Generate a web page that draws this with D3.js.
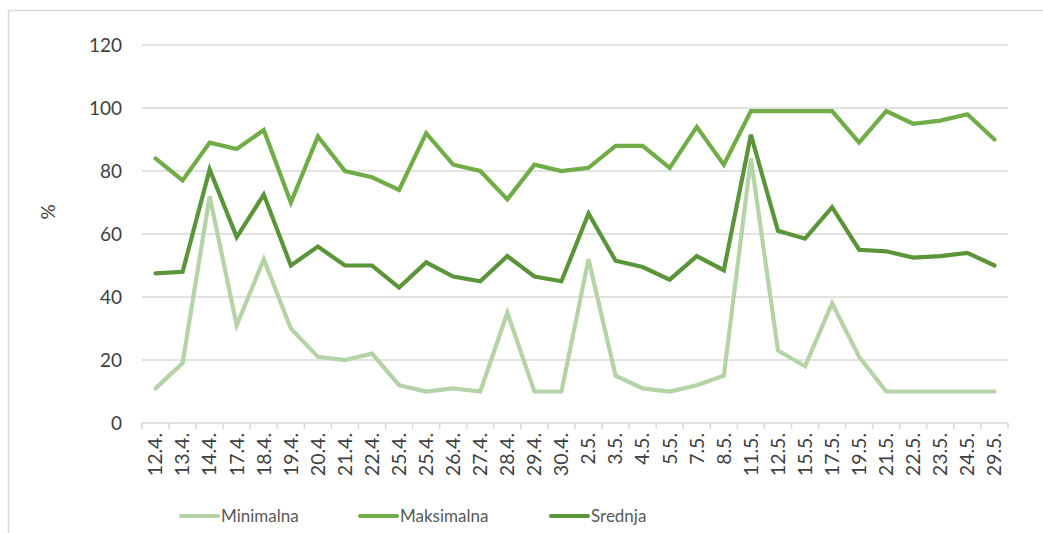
<!DOCTYPE html>
<html>
<head>
<meta charset="utf-8">
<script src="https://cdn.jsdelivr.net/npm/d3@7"></script>
<style>
  body { margin: 0; background: #fff; }
  text { font-family: Lato, "Open Sans", sans-serif; }
</style>
</head>
<body>
<div id="chart"></div>
<script>
// data
var dates = ["12.4.", "13.4.", "14.4.", "17.4.", "18.4.", "19.4.", "20.4.", "21.4.", "22.4.", "25.4.",
    "25.4.", "26.4.", "27.4.", "28.4.", "29.4.", "30.4.", "2.5.", "3.5.", "4.5.", "5.5.",
    "7.5.", "8.5.", "11.5.", "12.5.", "15.5.", "17.5.", "19.5.", "21.5.", "22.5.", "23.5.",
    "24.5.", "29.5."];
var minimalna = [11, 19, 72, 31, 52, 30, 21, 20, 22, 12, 10, 11, 10, 35, 10, 10, 52, 15, 11, 10,
    12, 15, 84, 23, 18, 38, 21, 10, 10, 10, 10, 10];
var maksimalna = [84, 77, 89, 87, 93, 70, 91, 80, 78, 74, 92, 82, 80, 71, 82, 80, 81, 88, 88, 81,
    94, 82, 99, 99, 99, 99, 89, 99, 95, 96, 98, 90];
var srednja = [47.5, 48, 80.5, 59, 72.5, 50, 56, 50, 50, 43, 51, 46.5, 45, 53, 46.5, 45, 66.5, 51.5, 49.5, 45.5,
    53, 48.5, 91.5, 61, 58.5, 68.5, 55, 54.5, 52.5, 53, 54, 50];
var yTicks = [0, 20, 40, 60, 80, 100, 120];

var series = [
    { name: "Minimalna", values: minimalna, color: "#b4d3a6" },
    { name: "Maksimalna", values: maksimalna, color: "#70ad47" },
    { name: "Srednja", values: srednja, color: "#5a9539" }
];

var W = 1043, H = 533;
var margin = { top: 45, right: 35, bottom: 110, left: 142 },
    width = W - margin.left - margin.right,
    height = H - margin.top - margin.bottom;

var root = d3.select("#chart").append("svg")
    .attr("width", W)
    .attr("height", H);

// chart area border (only top/left visible in the picture)
root.append("rect")
    .attr("x", 8.5).attr("y", 10.5)
    .attr("width", W + 20).attr("height", H + 20)
    .attr("fill", "none")
    .attr("stroke", "#d9d9d9")
    .attr("stroke-width", 1.5);

var svg = root.append("g")
    .attr("transform", "translate(" + margin.left + "," + margin.top + ")");

// band by index so the repeated "25.4." gets its own slot
var x = d3.scaleBand()
    .domain(d3.range(dates.length))
    .range([0, width]);

var y = d3.scaleLinear()
    .domain([0, 120])
    .range([height, 0]);

// gridlines
svg.selectAll(".grid")
    .data(yTicks.filter(function(d) { return d > 0; }))
    .enter().append("line")
    .attr("x1", 0).attr("x2", width)
    .attr("y1", function(d) { return y(d); })
    .attr("y2", function(d) { return y(d); })
    .attr("stroke", "#d9d9d9")
    .attr("stroke-width", 1.5);

// y axis labels
var yAxis = svg.append("g")
    .call(d3.axisLeft(y).tickValues(yTicks).tickSize(0).tickPadding(20));
yAxis.select(".domain").remove();
yAxis.selectAll("text")
    .attr("font-size", 19)
    .attr("fill", "#404040")
    .style("font-family", "Lato, 'Open Sans', sans-serif");

// x axis baseline + ticks at band boundaries
svg.append("line")
    .attr("x1", 0).attr("x2", width)
    .attr("y1", height).attr("y2", height)
    .attr("stroke", "#d9d9d9")
    .attr("stroke-width", 1.5);

svg.selectAll(".xtick")
    .data(d3.range(dates.length + 1))
    .enter().append("line")
    .attr("x1", function(i) { return i * x.step(); })
    .attr("x2", function(i) { return i * x.step(); })
    .attr("y1", height).attr("y2", height + 6)
    .attr("stroke", "#d9d9d9")
    .attr("stroke-width", 1.5);

svg.selectAll(".xlabel")
    .data(dates)
    .enter().append("text")
    .attr("transform", function(d, i) {
        return "translate(" + (x(i) + x.bandwidth() / 2) + "," + (height + 10) + ") rotate(-90)";
    })
    .attr("dy", "0.35em")
    .attr("text-anchor", "end")
    .attr("font-size", 19.5)
    .attr("fill", "#404040")
    .text(function(d) { return d; });

// y axis title
svg.append("text")
    .attr("transform", "translate(" + (-94) + "," + (y(67)) + ") rotate(-90)")
    .attr("text-anchor", "middle")
    .attr("dy", "0.35em")
    .attr("font-size", 19)
    .attr("fill", "#404040")
    .text("%");

// lines
var line = d3.line()
    .x(function(d, i) { return x(i) + x.bandwidth() / 2; })
    .y(function(d) { return y(d); });

svg.selectAll(".series")
    .data(series)
    .enter().append("path")
    .attr("d", function(s) { return line(s.values); })
    .attr("fill", "none")
    .attr("stroke", function(s) { return s.color; })
    .attr("stroke-width", 4.2)
    .attr("stroke-linejoin", "miter")
    .attr("stroke-linecap", "round");

// legend
var legendX = [181, 360, 551];
var legend = root.selectAll(".legend")
    .data(series)
    .enter().append("g")
    .attr("transform", function(s, i) { return "translate(" + legendX[i] + ",516)"; });

legend.append("line")
    .attr("x1", 0).attr("x2", 37)
    .attr("stroke", function(s) { return s.color; })
    .attr("stroke-width", 4.2)
    .attr("stroke-linecap", "round");

legend.append("text")
    .attr("x", 40)
    .attr("dy", "0.35em")
    .attr("font-size", 17)
    .attr("fill", "#595959")
    .text(function(s) { return s.name; });
</script>
</body>
</html>
